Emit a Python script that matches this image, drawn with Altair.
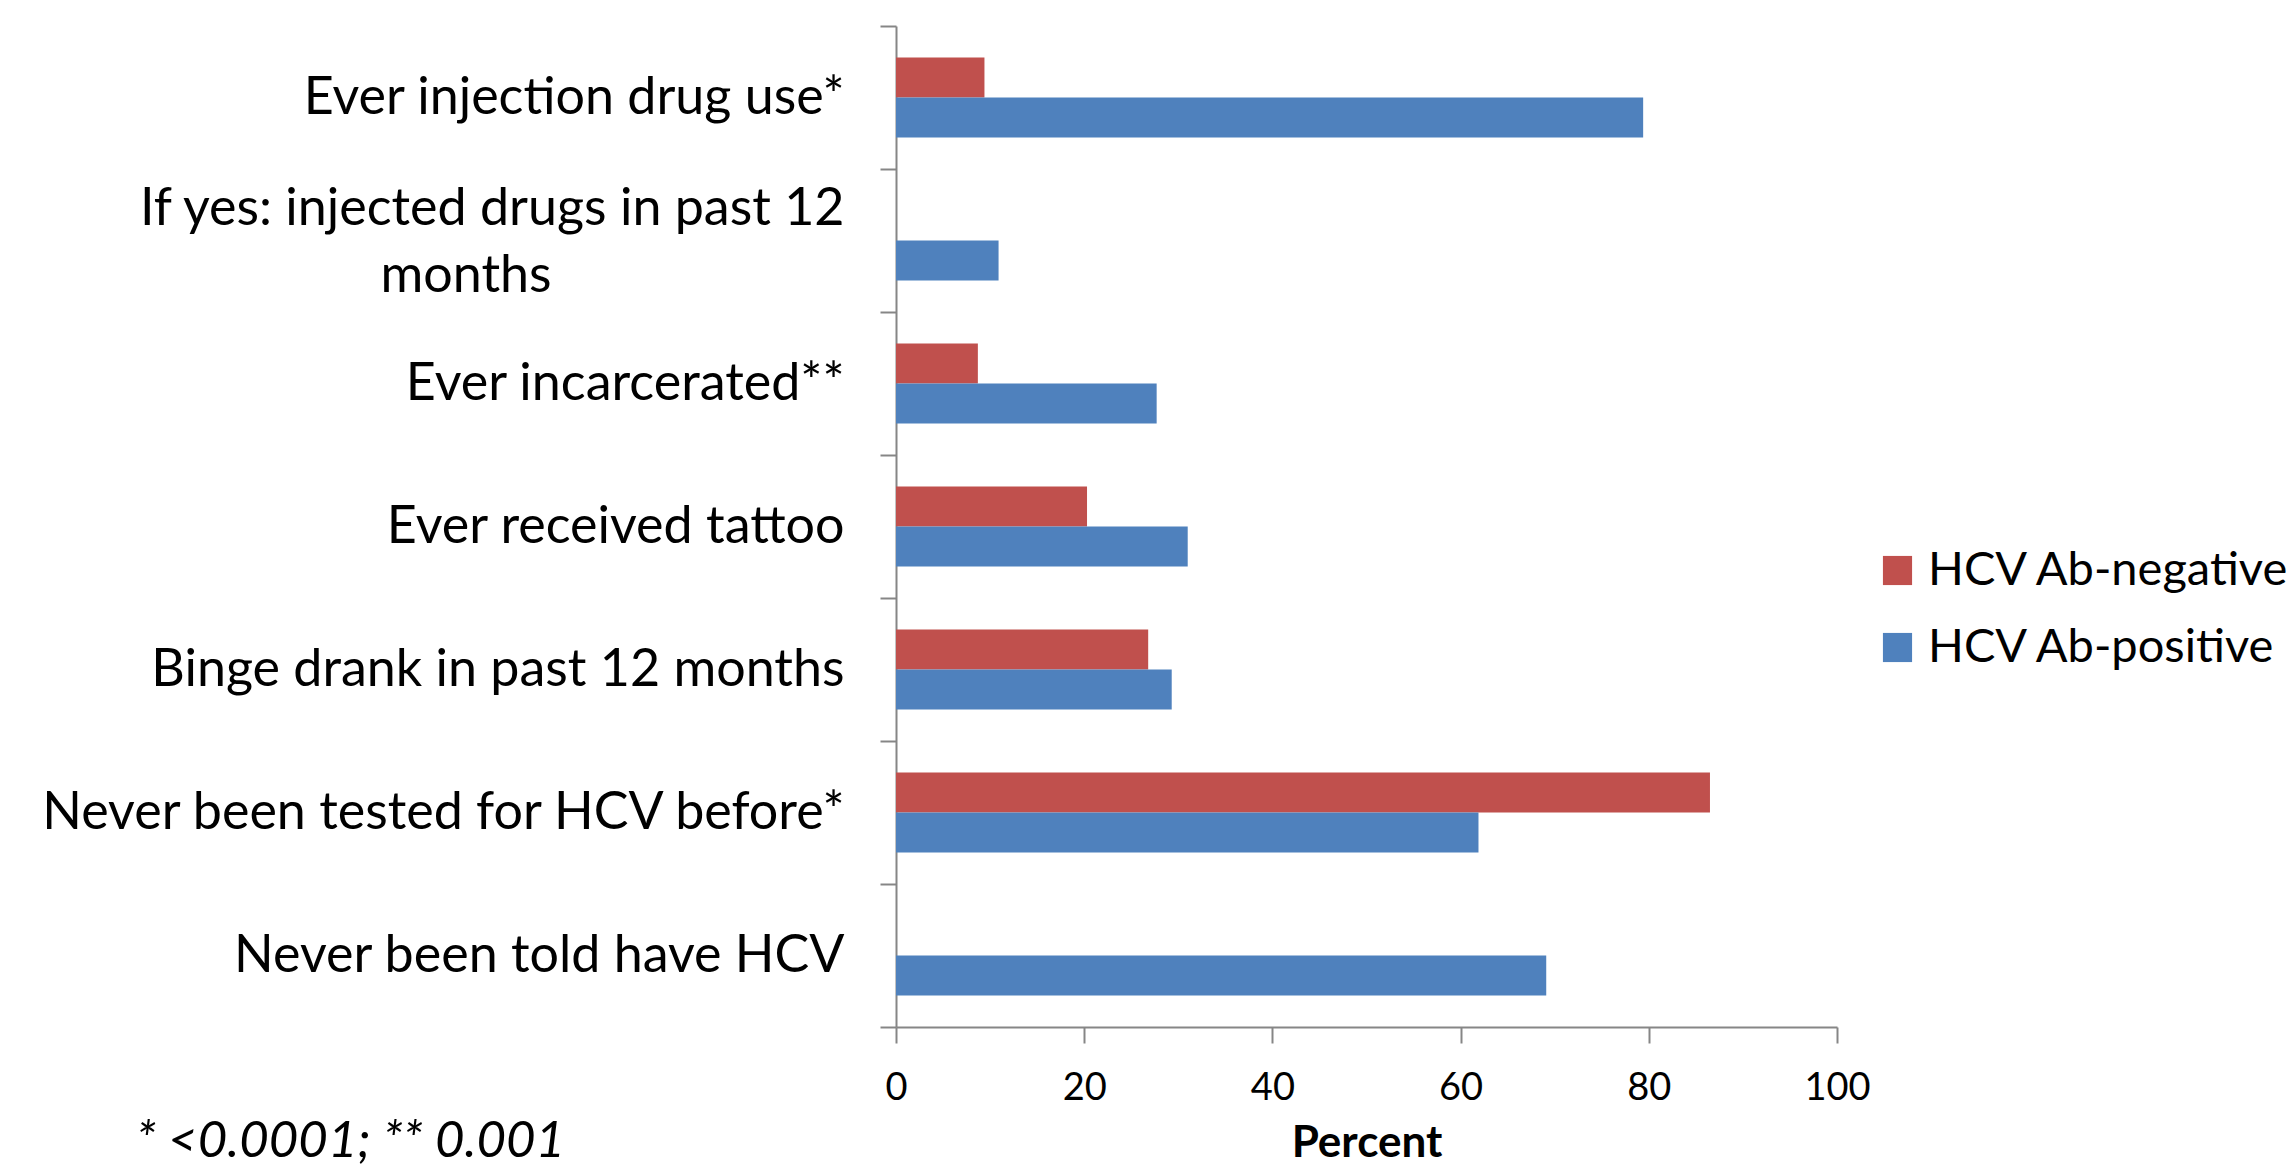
import altair as alt
import pandas as pd

categories = [
    "Ever injection drug use*",
    "If yes: injected drugs in past 12",
    "Ever incarcerated**",
    "Ever received tattoo",
    "Binge drank in past 12 months",
    "Never been tested for HCV before*",
    "Never been told have HCV\u00a0",
]
groups = ["HCV Ab-negative", "HCV Ab-positive"]
neg_values = [9.4, None, 8.7, 20.3, 26.8, 86.5, None]
pos_values = [79.4, 10.9, 27.7, 31.0, 29.3, 61.9, 69.1]
footnote = "* <0.0001; ** 0.001"

rows = []
for c, n, p in zip(categories, neg_values, pos_values):
    if n is not None:
        rows.append({"category": c, "group": groups[0], "value": n})
    if p is not None:
        rows.append({"category": c, "group": groups[1], "value": p})
df = pd.DataFrame(rows)

FONT = "Lato"
YFS = 52
WRAPPED = "If yes: injected drugs in past 12"

label_expr = (
    "datum.value == '" + WRAPPED + "' ? "
    "['" + WRAPPED + "', 'months" + "\u00a0" * 22 + "\u200b'] : datum.value"
)

bars = alt.Chart(df).mark_bar().encode(
    x=alt.X(
        "value:Q",
        scale=alt.Scale(domain=[0, 100], nice=False),
        axis=alt.Axis(
            values=[0, 20, 40, 60, 80, 100],
            title="Percent",
            titleFontWeight="bold",
            titleFont=FONT,
            titleFontSize=44,
            titleColor="black",
            titlePadding=14,
            labelFont=FONT,
            labelFontSize=38,
            labelColor="black",
            labelPadding=26,
            labelFlush=False,
            tickSize=16,
            tickColor="#868686",
            tickWidth=2,
            domainColor="#868686",
            domainWidth=2,
            grid=False,
        ),
    ),
    y=alt.Y(
        "category:N",
        sort=categories,
        scale=alt.Scale(paddingInner=0, paddingOuter=0),
        axis=alt.Axis(
            title=None,
            labelFont=FONT,
            labelFontSize=YFS,
            labelColor="black",
            labelPadding=36,
            labelLimit=1200,
            labelExpr=label_expr,
            labelLineHeight=67,
            labelOffset={
                "condition": {"test": "datum.value == '" + WRAPPED + "'", "value": -32},
                "value": 0,
            },
            tickBand="extent",
            tickSize=16,
            tickColor="#868686",
            tickWidth=2,
            domainColor="#868686",
            domainWidth=2,
            grid=False,
        ),
    ),
    yOffset=alt.YOffset(
        "group:N", sort=groups, scale=alt.Scale(paddingInner=0, paddingOuter=0.786)
    ),
    color=alt.Color(
        "group:N",
        sort=groups,
        scale=alt.Scale(domain=groups, range=["#C0504D", "#4F81BD"]),
        legend=alt.Legend(
            title=None,
            orient="none",
            legendX=978,
            legendY=521,
            symbolType="square",
            symbolSize=850,
            symbolStrokeWidth=0,
            labelFont=FONT,
            labelFontSize=47,
            labelColor="black",
            labelOffset=7,
            rowPadding=29,
            labelLimit=1000,
        ),
    ),
)

note = alt.Chart(pd.DataFrame({"t": [footnote]})).mark_text(
    align="left", baseline="middle", font=FONT, fontSize=51, fontStyle="italic", color="black"
).encode(text="t:N", x=alt.value(-760), y=alt.value(1116))

chart = alt.layer(bars, note).properties(
    width=941,
    height=1001,
    padding={"left": 896, "top": 26, "right": 458, "bottom": 144},
    autosize=alt.AutoSizeParams(type="none"),
).configure_view(stroke=None)

chart.save("out.html", embed_options={"renderer": "svg", "actions": False})
